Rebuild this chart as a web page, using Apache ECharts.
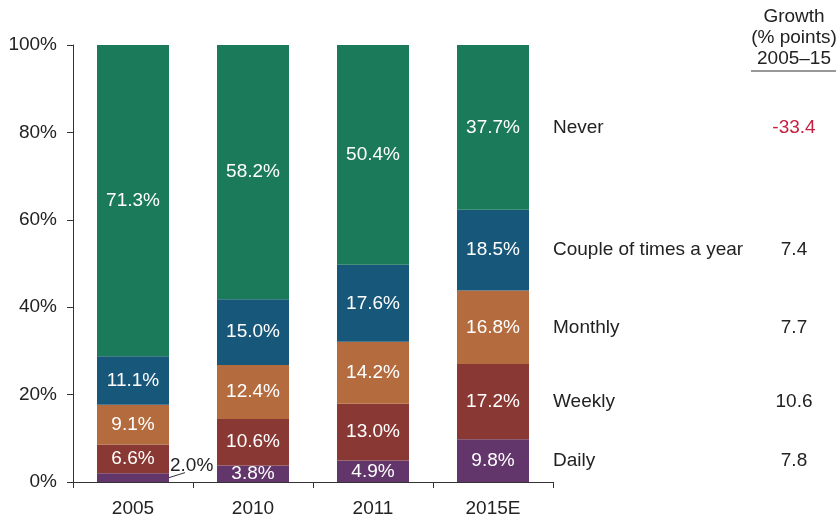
<!DOCTYPE html>
<html><head><meta charset="utf-8">
<script src="https://cdn.jsdelivr.net/npm/echarts@6/dist/echarts.min.js"></script>
<style>html,body{margin:0;padding:0;background:#fff}#c{width:836px;height:519px}</style>
</head><body><div id="c"></div>
<script>
var categories = ['2005', '2010', '2011', '2015E'];
var seriesNames = ['Daily', 'Weekly', 'Monthly', 'Couple of times a year', 'Never'];
var daily = [2.0, 3.8, 4.9, 9.8];
var weekly = [6.6, 10.6, 13.0, 17.2];
var monthly = [9.1, 12.4, 14.2, 16.8];
var couple = [11.1, 15.0, 17.6, 18.5];
var never = [71.3, 58.2, 50.4, 37.7];
var growth = ['7.8', '10.6', '7.7', '7.4', '-33.4'];
var yTicks = ['0%', '20%', '40%', '60%', '80%', '100%'];
var headerLines = ['Growth', '(% points)', '2005–15'];

var colors = ['#62366b', '#8a3833', '#b46c3e', '#17577a', '#1b7a5a'];
var FONT = 'Liberation Sans';
var FS = 19;
var values = [daily, weekly, monthly, couple, never];

var chart = echarts.init(document.getElementById('c'), null, {renderer: 'canvas'});
var last = categories.length - 1;
var cum = 0;
var series = values.map(function (arr, i) {
  var mid = cum + arr[last] / 2;
  cum += arr[last];
  var data = arr.map(function (v, j) {
    if (i === 0 && j === 0) {
      return {value: v, label: {position: 'right', distance: 1, color: '#222', offset: [0, -12]}};
    }
    return {value: v};
  });
  return {
    name: seriesNames[i],
    type: 'bar',
    stack: 'all',
    barWidth: '60%',
    data: data,
    itemStyle: {color: colors[i]},
    label: {
      show: true, position: 'inside', color: '#fff',
      fontFamily: FONT, fontSize: FS,
      formatter: function (p) { return p.value.toFixed(1) + '%'; }
    },
    markPoint: {
      symbol: 'circle', symbolSize: 0, silent: true,
      data: [{coord: [categories[last], mid]}],
      label: {
        show: true, position: 'right', distance: 60,
        fontFamily: FONT, fontSize: FS, color: '#222',
        formatter: '{n|' + seriesNames[i] + '}{g|' + growth[i] + '}',
        rich: {
          n: {width: 219, align: 'left', fontFamily: FONT, fontSize: FS, color: '#222'},
          g: {width: 44, align: 'center', fontFamily: FONT, fontSize: FS, color: i === 4 ? '#c41f3e' : '#222'}
        }
      }
    }
  };
});

var option = {
  animation: false,
  grid: {left: 73, right: 283, top: 45, bottom: 37},
  xAxis: {
    type: 'category', data: categories,
    axisLine: {lineStyle: {color: '#333', width: 1}},
    axisTick: {show: true, length: 6, lineStyle: {color: '#333'}},
    axisLabel: {color: '#222', fontFamily: FONT, fontSize: FS, margin: 17}
  },
  yAxis: {
    type: 'value', min: 0, max: 100, interval: 20,
    axisLine: {show: true, lineStyle: {color: '#333', width: 1}},
    axisTick: {show: true, length: 6, lineStyle: {color: '#333'}},
    splitLine: {show: false},
    axisLabel: {color: '#222', fontFamily: FONT, fontSize: FS, margin: 16,
      formatter: function (v) { return yTicks[Math.round(v / 20)]; }}
  },
  graphic: [
    {type: 'text', x: 794, y: 6, style: {text: headerLines.join('\n'), fontFamily: FONT, fontSize: FS, lineHeight: 21, fill: '#222', align: 'center'}},
    {type: 'line', shape: {x1: 751, y1: 71, x2: 836, y2: 71}, style: {stroke: '#333', lineWidth: 1}}
  ],
  series: series
};
chart.setOption(option);

// leader line for the small 2005 "Daily" label, anchored via the axis scales
var p0 = chart.convertToPixel({gridIndex: 0}, [categories[0], daily[0] / 2]);
var pZero = chart.convertToPixel({gridIndex: 0}, [categories[1], 0]);
var bandW = pZero[0] - p0[0];
var barRight = p0[0] + bandW * 0.3;
chart.setOption({
  graphic: option.graphic.concat([
    {type: 'line', shape: {x1: barRight, y1: p0[1], x2: barRight + 16, y2: p0[1] - 5}, style: {stroke: '#333', lineWidth: 1}}
  ])
});
</script></body></html>
